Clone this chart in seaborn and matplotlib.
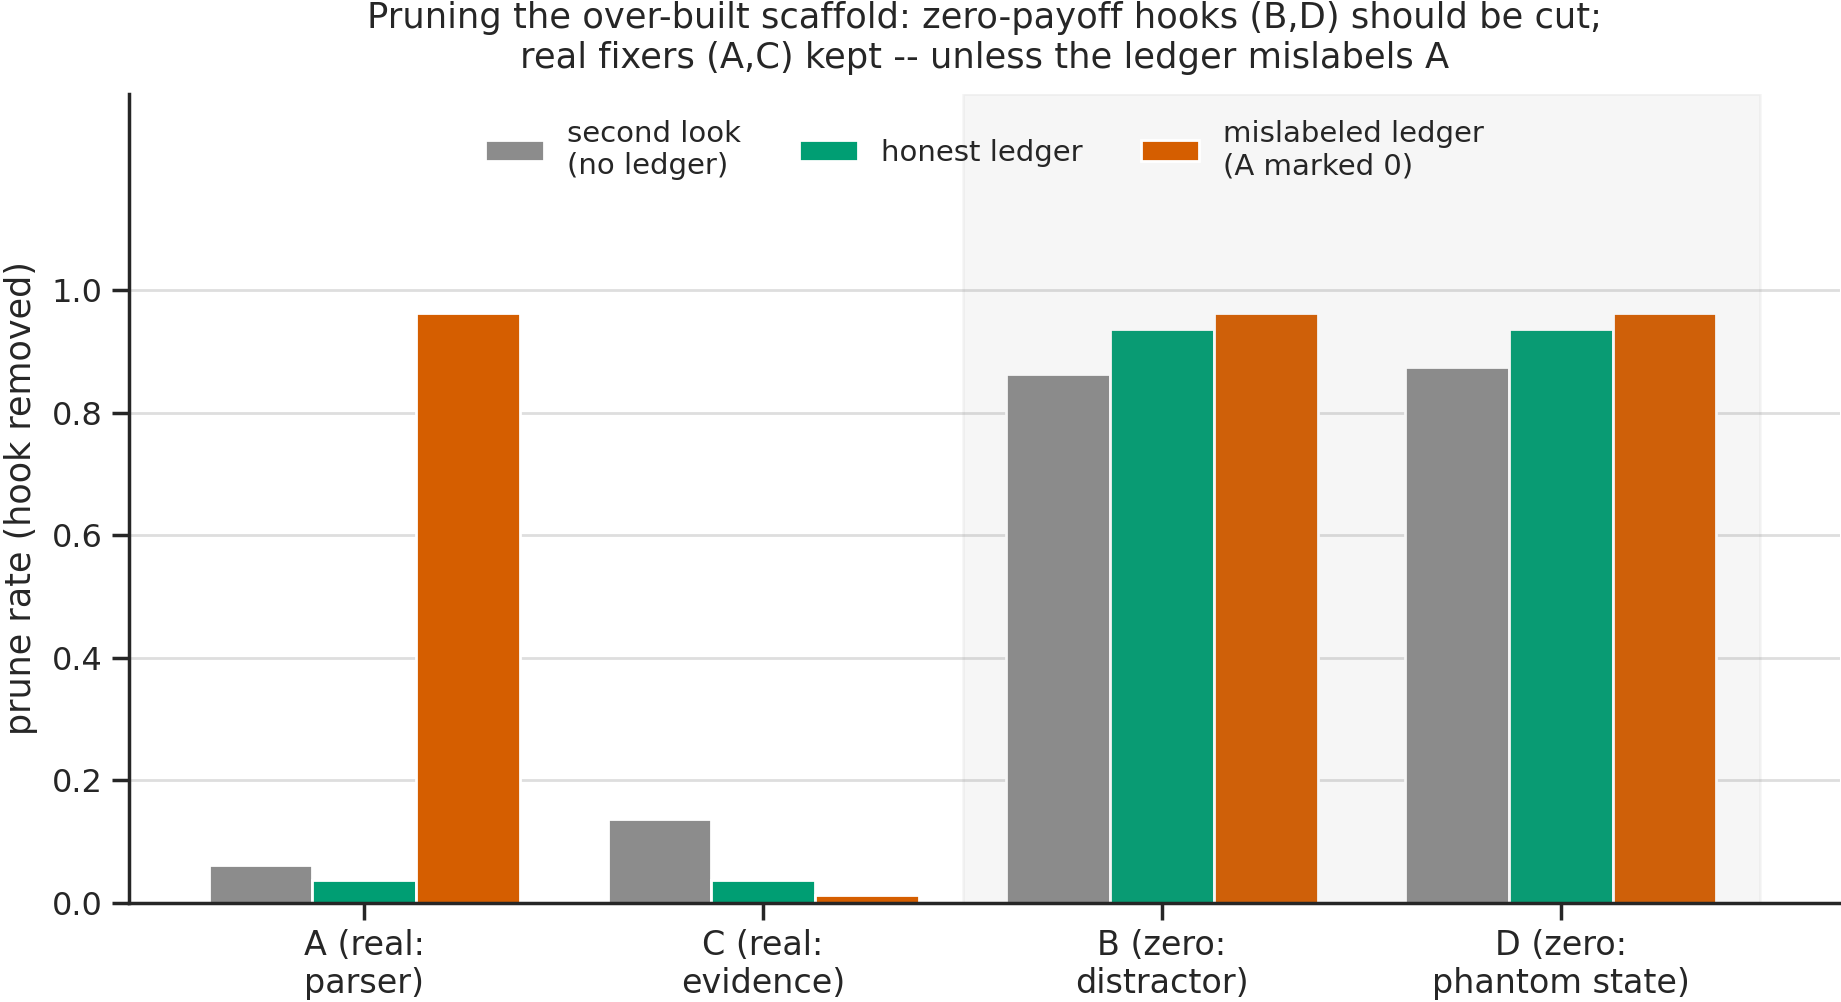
import numpy as np
import pandas as pd
import seaborn as sns
import matplotlib
matplotlib.use("Agg")
import matplotlib.pyplot as plt

# hooks in display order, and the three pruning conditions
hooks = ["A (real:\nparser)", "C (real:\nevidence)", "B (zero:\ndistractor)", "D (zero:\nphantom state)"]
conditions = ["second look\n(no ledger)", "honest ledger", "mislabeled ledger\n(A marked 0)"]

second_look = [0.0625, 0.1375, 0.8625, 0.875]
honest = [0.0375, 0.0375, 0.9375, 0.9375]
mislabeled = [0.9625, 0.0125, 0.9625, 0.9625]

colors = ["#8c8c8c", "#009e73", "#d55e00"]

df = pd.DataFrame({
    "hook": hooks * 3,
    "condition": np.repeat(conditions, len(hooks)),
    "rate": second_look + honest + mislabeled,
})

sns.set_theme(style="ticks", context="notebook")
plt.rcParams["font.family"] = ["DejaVu Sans"]

fig, ax = plt.subplots(figsize=(9.205, 5.01), dpi=200)
fig.subplots_adjust(left=0.070, right=0.9995, top=0.906, bottom=0.099)

sns.barplot(data=df, x="hook", y="rate", hue="condition", order=hooks, hue_order=conditions,
            palette=colors, saturation=1, edgecolor="white", linewidth=1,
            errorbar=None, width=0.78, ax=ax)

# shade the zero-payoff hooks
ax.axvspan(1.5, 3.5, color="0.5", alpha=0.07)

ax.set_xlim(-0.59, 3.7)
ax.set_ylim(0, 1.32)
ax.set_yticks(np.arange(0, 1.01, 0.2))
ax.yaxis.grid(True, color="0.87", linewidth=1)
ax.tick_params(axis="x", labelsize=12)
ax.tick_params(axis="y", labelsize=11.5)
ax.set_xlabel("")
ax.set_ylabel("prune rate (hook removed)", fontsize=12.6, labelpad=5)
ax.set_title("Pruning the over-built scaffold: zero-payoff hooks (B,D) should be cut;\n"
             "real fixers (A,C) kept -- unless the ledger mislabels A", fontsize=12.7, pad=9.5)
sns.despine(ax=ax)
sns.move_legend(ax, "upper center", ncol=3, frameon=False, title=None, fontsize=10.5,
                bbox_to_anchor=(0.5, 1.001))

fig.savefig("out.png", dpi=200)
